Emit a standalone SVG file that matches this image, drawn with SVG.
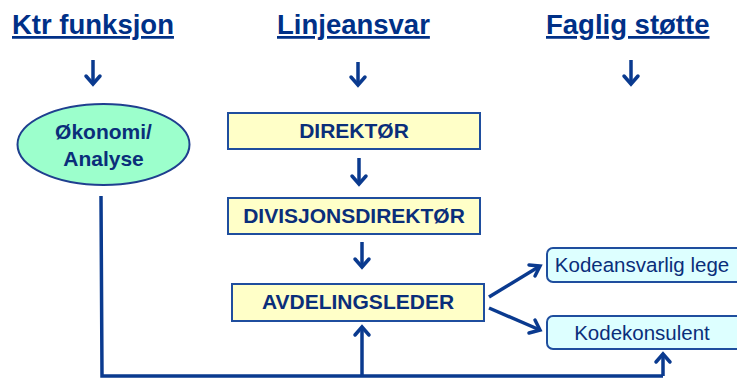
<svg xmlns="http://www.w3.org/2000/svg" width="737" height="378" viewBox="0 0 737 378">
<style>
.title{font-family:"Liberation Sans",Arial,sans-serif;font-weight:bold;font-size:27.5px;fill:#003087;text-decoration:underline;}
.box{fill:#FFFFC8;stroke:#1F4E9E;stroke-width:2;}
.btxt{font-family:"Liberation Sans",Arial,sans-serif;font-weight:bold;font-size:21px;fill:#0A2E7A;text-anchor:middle;}
.rbox{fill:#DDFFFF;stroke:#1F4E9E;stroke-width:2;}
.rtxt{font-family:"Liberation Sans",Arial,sans-serif;font-size:20.5px;fill:#0A2E7A;text-anchor:middle;}
.ln{fill:none;stroke:#0A3A8F;stroke-width:3.5;stroke-linecap:butt;stroke-linejoin:miter;}
.ah{fill:none;stroke:#0A3A8F;stroke-width:3.5;stroke-linecap:round;stroke-linejoin:miter;}
</style>
<rect width="737" height="378" fill="#FFFFFF"/>
<g id="titles">
<text class="title" x="12" y="34">Ktr funksjon</text>
<text class="title" x="277" y="34">Linjeansvar</text>
<text class="title" x="546" y="34">Faglig støtte</text>
</g>
<g id="okonomi">
<ellipse cx="103.5" cy="144.5" rx="86" ry="40.5" fill="#9CFFCC" stroke="#1F3F8F" stroke-width="2"/>
<text class="btxt" x="103.5" y="139">Økonomi/</text>
<text class="btxt" x="103.5" y="166">Analyse</text>
</g>
<g id="direktor">
<rect class="box" x="228" y="113" width="252" height="36"/>
<text class="btxt" x="354" y="138">DIREKTØR</text>
</g>
<g id="divisjonsdirektor">
<rect class="box" x="228" y="198" width="252" height="36"/>
<text class="btxt" x="354" y="223">DIVISJONSDIREKTØR</text>
</g>
<g id="avdelingsleder">
<rect class="box" x="232" y="284" width="252" height="37"/>
<text class="btxt" x="358" y="309">AVDELINGSLEDER</text>
</g>
<g id="kodeansvarlig">
<rect class="rbox" x="547" y="248" width="195" height="34" rx="6"/>
<text class="rtxt" x="642" y="272">Kodeansvarlig lege</text>
</g>
<g id="kodekonsulent">
<rect class="rbox" x="547" y="316" width="195" height="33" rx="6"/>
<text class="rtxt" x="642" y="340">Kodekonsulent</text>
</g>
<g id="connectors">
<line class="ln" x1="93" y1="60" x2="93" y2="84"/>
<polyline class="ah" points="86,76 93,84 100,76"/>
<line class="ln" x1="358" y1="62" x2="358" y2="85"/>
<polyline class="ah" points="351,77 358,85 365,77"/>
<line class="ln" x1="631" y1="60" x2="631" y2="84"/>
<polyline class="ah" points="624,76 631,84 638,76"/>
<line class="ln" x1="359" y1="158" x2="359" y2="184"/>
<polyline class="ah" points="352,176 359,184 366,176"/>
<line class="ln" x1="362" y1="242" x2="362" y2="267"/>
<polyline class="ah" points="355,259 362,267 369,259"/>
<polyline class="ln" points="101,196 102,376 663,376"/>
<line class="ln" x1="362" y1="376" x2="362" y2="327"/>
<polyline class="ah" points="355,335 362,327 369,335"/>
<line class="ln" x1="663" y1="376" x2="663" y2="354"/>
<polyline class="ah" points="656,362 663,354 670,362"/>
<line class="ln" x1="489" y1="297" x2="540" y2="266"/>
<polyline class="ah" points="529,265 540,266 535,276"/>
<line class="ln" x1="489" y1="308" x2="540" y2="330"/>
<polyline class="ah" points="535,320 540,330 529,333"/>
</g>
</svg>
